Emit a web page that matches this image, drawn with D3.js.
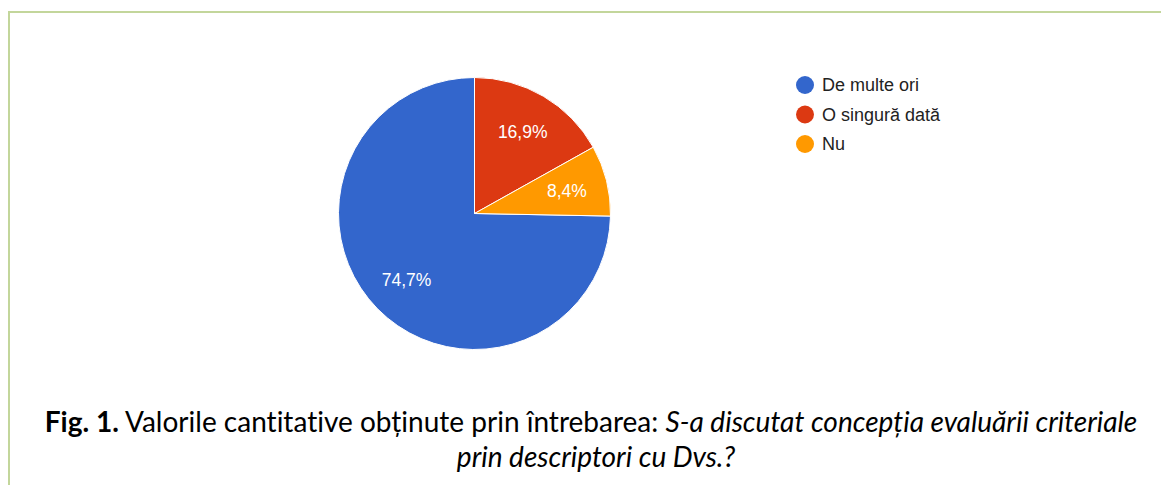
<!DOCTYPE html>
<html>
<head>
<meta charset="utf-8">
<script src="https://cdn.jsdelivr.net/npm/d3@7"></script>
<style>
  body { margin: 0; background: #fff; }
  text { font-variant-ligatures: none; font-feature-settings: "liga" 0, "dlig" 0; }
</style>
</head>
<body>
<svg id="chart" width="1161" height="485"></svg>
<script>
// datele graficului
var categories = ["De multe ori", "O singură dată", "Nu"];
var values = [74.7, 16.9, 8.4];
var labels = ["74,7%", "16,9%", "8,4%"];
var colors = ["#3366cc", "#dc3912", "#ff9900"];

var captionBold = "Fig. 1.";
var captionNormal = " Valorile cantitative obținute prin întrebarea: ";
var captionItalic1 = "S-a discutat concepția evaluării criteriale";
var captionItalic2 = "prin descriptori cu Dvs.?";

var svg = d3.select("#chart");

// chenarul verde
svg.append("rect")
    .attr("x", 9)
    .attr("y", 12)
    .attr("width", 1200)
    .attr("height", 520)
    .attr("fill", "none")
    .attr("stroke", "#c3d69b")
    .attr("stroke-width", 2);

var cx = 474.5, cy = 213.5, radius = 136;
var total = d3.sum(values);

// primul segment se termina in varful cercului
var start = 2 * Math.PI * (1 - values[0] / total);
var pie = d3.pie()
    .sort(null)
    .startAngle(start)
    .endAngle(start + 2 * Math.PI);

var arc = d3.arc().innerRadius(0).outerRadius(radius);
var labelArc = d3.arc().innerRadius(radius * 0.7).outerRadius(radius * 0.7);

var g = svg.append("g").attr("transform", "translate(" + cx + "," + cy + ")");

var slices = g.selectAll(".slice")
    .data(pie(values))
    .enter().append("g")
    .attr("class", "slice");

slices.append("path")
    .attr("d", arc)
    .attr("fill", function(d, i) { return colors[i]; })
    .attr("stroke", "#fff")
    .attr("stroke-width", 1);

slices.append("text")
    .attr("transform", function(d) { return "translate(" + labelArc.centroid(d) + ")"; })
    .attr("dy", "0.35em")
    .attr("text-anchor", "middle")
    .attr("font-family", "Liberation Sans, Arial, sans-serif")
    .attr("font-size", 17.5)
    .attr("fill", "#fff")
    .text(function(d, i) { return labels[i]; });

// legenda
var legend = svg.append("g")
    .attr("font-family", "Liberation Sans, Arial, sans-serif")
    .attr("font-size", 18)
    .selectAll("g")
    .data(categories)
    .enter().append("g")
    .attr("transform", function(d, i) { return "translate(805," + (85 + i * 29.5) + ")"; });

legend.append("circle")
    .attr("r", 9)
    .attr("fill", function(d, i) { return colors[i]; });

legend.append("text")
    .attr("x", 17)
    .attr("dy", "0.36em")
    .attr("fill", "#222")
    .text(function(d) { return d; });

// legenda figurii
var caption = svg.append("g")
    .attr("font-family", "Lato, 'Open Sans', sans-serif")
    .attr("fill", "#000")
    .attr("text-anchor", "middle");

var line1 = caption.append("text")
    .attr("x", 591)
    .attr("y", 432);
line1.append("tspan").attr("font-weight", "bold").text(captionBold);
line1.append("tspan").text(captionNormal);
line1.append("tspan").attr("font-style", "italic").text(captionItalic1);

var line2 = caption.append("text")
    .attr("x", 596)
    .attr("y", 467)
    .attr("font-style", "italic")
    .text(captionItalic2);

// marimea fontului ajustata la latimea din imagine
var fs = 22;
caption.attr("font-size", fs);
var w = line1.node().getComputedTextLength();
fs = fs * 1093 / w;
caption.attr("font-size", fs);
</script>
</body>
</html>
